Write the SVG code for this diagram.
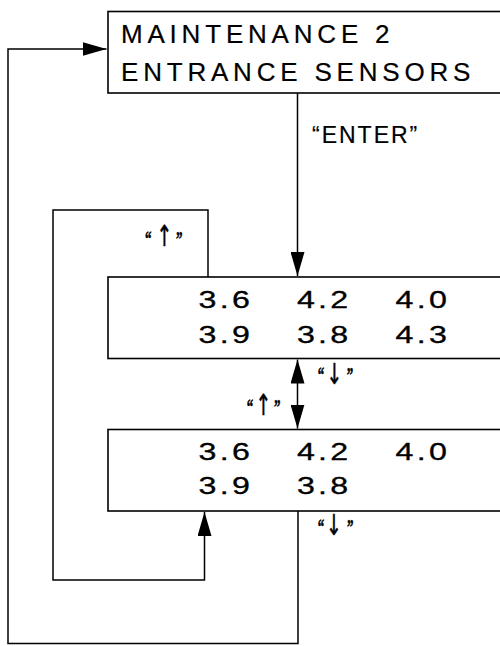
<svg xmlns="http://www.w3.org/2000/svg" width="500" height="646" viewBox="0 0 500 646">
<defs>
<style>
.box{fill:#fff;stroke:#000;stroke-width:1.6}
.ln{fill:none;stroke:#000;stroke-width:1.5}
.title{font-family:"Liberation Sans",Arial,sans-serif;font-size:26px;letter-spacing:4.8px;fill:#000;stroke:#000;stroke-width:0.2}
.num{font-family:"Liberation Sans",Arial,sans-serif;font-size:23px;letter-spacing:2.3px;fill:#000;stroke:#000;stroke-width:0.3}
.lbl{font-family:"Liberation Sans",Arial,sans-serif;font-size:23px;letter-spacing:2px;fill:#000;stroke:#000;stroke-width:0.2}
.sl{fill:#000;stroke:#000;stroke-width:0.5}
.q{font-family:"Liberation Serif","Times New Roman",serif;font-size:20px;font-weight:bold}
.ar{font-family:"DejaVu Sans",sans-serif;font-size:29px}
</style>
<marker id="ah" viewBox="0 0 24 14" refX="24" refY="7" markerWidth="24" markerHeight="14" markerUnits="userSpaceOnUse" orient="auto-start-reverse">
<path d="M0,0 L24,7 L0,14 Z" fill="#000"/>
</marker>
</defs>
<rect width="500" height="646" fill="#fff"/>
<g id="connectors">
<path class="ln" d="M297.5,93 V276" marker-end="url(#ah)"/>
<path class="ln" d="M297.5,359.5 V428.5" marker-start="url(#ah)" marker-end="url(#ah)"/>
<path class="ln" d="M208,277 V210 H53 V580 H204.5 V512" marker-end="url(#ah)"/>
<path class="ln" d="M298,511 V643.5 H8 V49 H106.5" marker-end="url(#ah)"/>
</g>
<g id="node-maintenance">
<rect class="box" x="108" y="11.5" width="420" height="81.5"/>
<text class="title" x="121" y="43">MAINTENANCE 2</text>
<text class="title" x="121" y="80.5">ENTRANCE SENSORS</text>
</g>
<g id="node-display-1">
<rect class="box" x="108" y="277" width="420" height="81.5"/>
<text class="num" transform="translate(198.6,308) scale(1.4,1)">3.6</text>
<text class="num" transform="translate(297,308) scale(1.4,1)">4.2</text>
<text class="num" transform="translate(395.6,308) scale(1.4,1)">4.0</text>
<text class="num" transform="translate(198.6,342.5) scale(1.4,1)">3.9</text>
<text class="num" transform="translate(297,342.5) scale(1.4,1)">3.8</text>
<text class="num" transform="translate(395.6,342.5) scale(1.4,1)">4.3</text>
</g>
<g id="node-display-2">
<rect class="box" x="108" y="429.5" width="420" height="81.5"/>
<text class="num" transform="translate(198.6,460) scale(1.4,1)">3.6</text>
<text class="num" transform="translate(297,460) scale(1.4,1)">4.2</text>
<text class="num" transform="translate(395.6,460) scale(1.4,1)">4.0</text>
<text class="num" transform="translate(198.6,493.5) scale(1.4,1)">3.9</text>
<text class="num" transform="translate(297,493.5) scale(1.4,1)">3.8</text>
</g>
<g id="labels">
<text class="lbl" x="312" y="142.7">“ENTER”</text>
<text class="sl" transform="translate(164.3,0) scale(0.65,1)"><tspan class="q" x="-29.7" y="246.3">“</tspan><tspan class="ar" x="0" y="246" text-anchor="middle">↑</tspan><tspan class="q" x="18" y="246.3">”</tspan></text>
<text class="sl" transform="translate(334.3,0) scale(0.65,1)"><tspan class="q" x="-25.5" y="381.6">“</tspan><tspan class="ar" x="0" y="384" text-anchor="middle">↓</tspan><tspan class="q" x="19" y="381.6">”</tspan></text>
<text class="sl" transform="translate(263.3,0) scale(0.65,1)"><tspan class="q" x="-25.5" y="413.6">“</tspan><tspan class="ar" x="0" y="415" text-anchor="middle">↑</tspan><tspan class="q" x="16.5" y="413.6">”</tspan></text>
<text class="sl" transform="translate(334,0) scale(0.65,1)"><tspan class="q" x="-25" y="533.6">“</tspan><tspan class="ar" x="0" y="535" text-anchor="middle">↓</tspan><tspan class="q" x="20" y="533.6">”</tspan></text>
</g>
</svg>
